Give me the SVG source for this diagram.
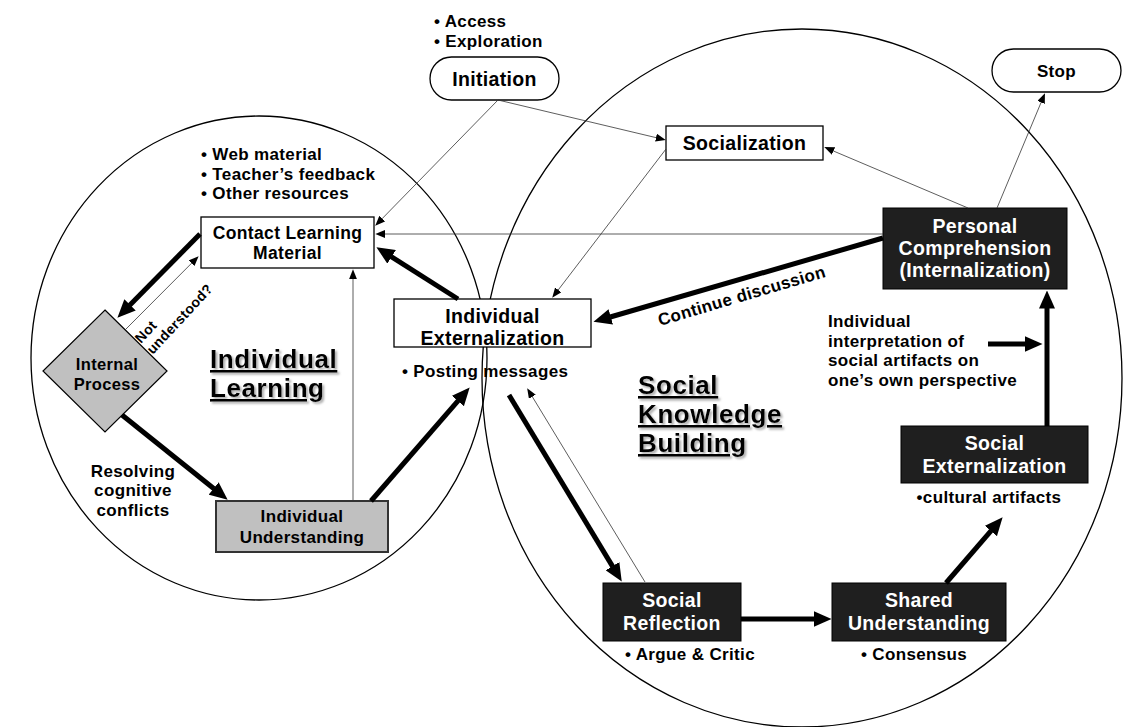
<svg xmlns="http://www.w3.org/2000/svg" width="1140" height="727" viewBox="0 0 1140 727">
<defs>
<style>
text{font-family:"Liberation Sans",Arial,sans-serif;font-weight:700;fill:#000;letter-spacing:0.35px}
.n{font-size:19.5px;text-anchor:middle}
.m{font-size:17px;text-anchor:middle}
.s{font-size:17px}
.w{fill:#fff}
.box{fill:#fff;stroke:#000;stroke-width:1.3}
.dark{fill:#1f1f1f;stroke:#000;stroke-width:1}
.gray{fill:#c0c0c0;stroke:#333;stroke-width:2}
.circ{fill:none;stroke:#000;stroke-width:1.3}
.thick{fill:none;stroke:#000;stroke-width:5;marker-end:url(#ah)}
.thin{fill:none;stroke:#333;stroke-width:0.8;marker-end:url(#at)}
.head{font-size:26px;letter-spacing:0.6px;text-decoration:underline;filter:url(#sh)}
</style>
<filter id="sh" x="-10%" y="-30%" width="125%" height="170%">
<feDropShadow dx="2" dy="2" stdDeviation="1" flood-color="#777" flood-opacity="0.6"/>
</filter>
<marker id="ah" markerUnits="userSpaceOnUse" markerWidth="18" markerHeight="16" refX="0.5" refY="8" orient="auto" viewBox="0 0 18 16"><path d="M0,0 L18,8 L0,16 z" fill="#000"/></marker>
<marker id="at" markerUnits="userSpaceOnUse" markerWidth="10" markerHeight="8" refX="0.3" refY="4" orient="auto" viewBox="0 0 10 8"><path d="M0,0 L10,4 L0,8 z" fill="#000"/></marker>
</defs>
<rect width="1140" height="727" fill="#fff"/>
<g id="regions">
<ellipse class="circ" cx="259" cy="358" rx="228" ry="242"/>
<ellipse class="circ" cx="802" cy="378" rx="320" ry="349"/>
</g>
<g id="heading-individual">
<text class="head" x="210" y="368">Individual</text>
<text class="head" x="210" y="397">Learning</text>
</g>
<g id="heading-social">
<text class="head" x="638" y="394">Social</text>
<text class="head" x="638" y="423">Knowledge</text>
<text class="head" x="638" y="452">Building</text>
</g>
<g id="initiation">
<rect class="box" x="430" y="57" width="129" height="43" rx="21.5"/>
<text class="n" x="494.5" y="86">Initiation</text>
<text class="s" x="434" y="27">• Access</text>
<text class="s" x="434" y="46.5">• Exploration</text>
</g>
<g id="stop">
<rect class="box" x="992" y="49" width="129" height="43" rx="21.5"/>
<text class="m" x="1056.5" y="77">Stop</text>
</g>
<g id="socialization">
<rect class="box" x="666" y="126" width="157" height="34"/>
<text class="n" x="744.5" y="150">Socialization</text>
</g>
<g id="contact">
<text class="s" x="201" y="160">• Web material</text>
<text class="s" x="201" y="179.5">• Teacher’s feedback</text>
<text class="s" x="201" y="199">• Other resources</text>
<rect class="box" x="201" y="217" width="173" height="51"/>
<text class="m" x="287.5" y="239" style="font-size:17.5px">Contact Learning</text>
<text class="m" x="287.5" y="259" style="font-size:17.5px">Material</text>
</g>
<g id="individual-externalization">
<rect class="box" x="394" y="299" width="197" height="48"/>
<text class="n" x="492.5" y="323">Individual</text>
<text class="n" x="492.5" y="345">Externalization</text>
<text class="s" x="402" y="377">• Posting messages</text>
</g>
<g id="internal-process">
<polygon points="105,310 167,371 105,432 43,371" fill="#c0c0c0" stroke="#000" stroke-width="1.2"/>
<text class="m" x="107" y="370" style="font-size:16.5px">Internal</text>
<text class="m" x="107" y="390" style="font-size:16.5px">Process</text>
</g>
<g id="individual-understanding">
<rect class="gray" x="216" y="501" width="172" height="51"/>
<text class="m" x="302" y="522">Individual</text>
<text class="m" x="302" y="543">Understanding</text>
</g>
<g id="personal-comprehension">
<rect class="dark" x="883" y="208" width="184" height="81"/>
<text class="n w" x="975" y="233">Personal</text>
<text class="n w" x="975" y="255">Comprehension</text>
<text class="n w" x="975" y="277">(Internalization)</text>
</g>
<g id="social-externalization">
<rect class="dark" x="901" y="426" width="187" height="57"/>
<text class="n w" x="994.5" y="450">Social</text>
<text class="n w" x="994.5" y="473">Externalization</text>
<text class="m" x="989" y="503">•cultural artifacts</text>
</g>
<g id="social-reflection">
<rect class="dark" x="603" y="583" width="138" height="58"/>
<text class="n w" x="672" y="607">Social</text>
<text class="n w" x="672" y="630">Reflection</text>
<text class="s" x="625" y="660">• Argue &amp; Critic</text>
</g>
<g id="shared-understanding">
<rect class="dark" x="832" y="583" width="174" height="58"/>
<text class="n w" x="919" y="607">Shared</text>
<text class="n w" x="919" y="630">Understanding</text>
<text class="s" x="861" y="660">• Consensus</text>
</g>
<g id="labels">
<text class="s" x="828" y="327">Individual</text>
<text class="s" x="828" y="346.5">interpretation of</text>
<text class="s" x="828" y="366">social artifacts on</text>
<text class="s" x="828" y="385.5">one’s own perspective</text>
<text class="m" x="133" y="477">Resolving</text>
<text class="m" x="133" y="496.3">cognitive</text>
<text class="m" x="133" y="515.6">conflicts</text>
<text class="s" transform="translate(660,326) rotate(-16.5)">Continue discussion</text>
<text style="font-size:14px" transform="translate(141,344) rotate(-47)"><tspan x="0" y="0">Not</tspan><tspan x="0" y="16">understood?</tspan></text>
</g>
<g id="connectors">
<path class="thick" d="M200,234 L129.7,305.2"/>
<path class="thick" d="M122,415 L214,488.7"/>
<path class="thick" d="M371,501 L458.2,400.6"/>
<path class="thick" d="M458,299 L391.2,256.6"/>
<path class="thick" d="M883,238 L610.3,317"/>
<path class="thick" d="M509,395 L612.7,566.6"/>
<path class="thick" d="M741,619 L814,619"/>
<path class="thick" d="M946,583 L991.2,530.6"/>
<path class="thick" d="M1047,426 L1047,308"/>
<path class="thick" d="M988,344 L1025,344"/>
<path class="thin" d="M498,100 L382,218.8"/>
<path class="thin" d="M498,100 L656.3,137.7"/>
<path class="thin" d="M666,149 L558.1,290.1"/>
<path class="thin" d="M968,208 L833.2,150.9"/>
<path class="thin" d="M997,208 L1041.2,102.2"/>
<path class="thin" d="M883,234 L385,234"/>
<path class="thin" d="M645,582 L532.2,396.5"/>
<path class="thin" d="M353,501 L353,279"/>
<path class="thin" d="M125,330 L191.8,263"/>
</g>
</svg>
